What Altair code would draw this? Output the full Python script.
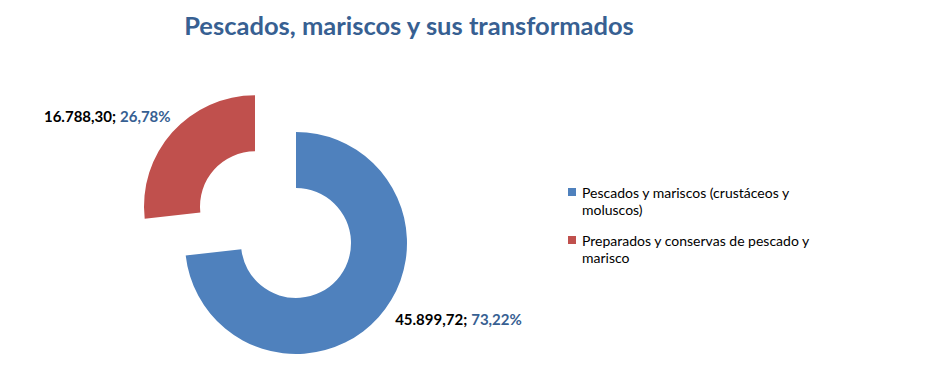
import altair as alt
import pandas as pd

categories = [
    "Pescados y mariscos (crustáceos y moluscos)",
    "Preparados y conservas de pescado y marisco",
]
values = [45899.72, 16788.30]
value_labels = ["45.899,72;", "16.788,30;"]
pct_labels = ["73,22%", "26,78%"]
legend_labels = [
    "Pescados y mariscos (crustáceos y\nmoluscos)",
    "Preparados y conservas de pescado y\nmarisco",
]
exploded = [False, True]
title_text = ["Pescados, mariscos y sus transformados"]
colors = ["#4F81BD", "#C0504D"]

df = pd.DataFrame({
    "idx": list(range(len(categories))),
    "category": categories,
    "value": values,
    "vlab": value_labels,
    "plab": pct_labels,
    "leg": legend_labels,
    "exp": exploded,
})

FONT = "Lato"
CX, CY = 288, 235
R_OUT, R_IN = 111, 55
EXPLODE = 55
R_LAB = 125

color = alt.Color("category:N", scale=alt.Scale(domain=categories, range=colors), legend=None)

base = (
    alt.Chart(df)
    .transform_window(cum="sum(value)", sort=[alt.SortField("idx")], frame=[None, 0])
    .transform_joinaggregate(total="sum(value)")
    .transform_calculate(
        a0="(datum.cum - datum.value) / datum.total * 2 * PI",
        a1="datum.cum / datum.total * 2 * PI",
    )
    .transform_calculate(mid="(datum.a0 + datum.a1) / 2")
    .transform_calculate(
        cx=f"{CX} + (datum.exp ? {EXPLODE} : 0) * sin(datum.mid)",
        cy=f"{CY} - (datum.exp ? {EXPLODE} : 0) * cos(datum.mid)",
    )
    .transform_calculate(
        ex=f"datum.cx + {R_LAB} * sin(datum.mid)",
        ey=f"datum.cy - {R_LAB} * cos(datum.mid)",
        right="sin(datum.mid) > 0",
    )
    .transform_calculate(
        split="datum.right ? datum.ex + length(datum.vlab) * 7.4 + 4 : datum.ex - length(datum.plab) * 8.3 + 4"
    )
)

arcs = base.mark_arc(outerRadius=R_OUT, innerRadius=R_IN, stroke=None).encode(
    theta=alt.Theta("a0:Q", scale=None),
    theta2="a1:Q",
    x=alt.X("cx:Q", scale=None),
    y=alt.Y("cy:Q", scale=None),
    color=color,
)

val_text = base.mark_text(
    align="right", baseline="middle", font=FONT, fontSize=15, fontWeight="bold", color="#000000", dy=-6
).encode(
    x=alt.X("split:Q", scale=None),
    y=alt.Y("ey:Q", scale=None),
    text="vlab:N",
)

pct_text = base.mark_text(
    align="left", baseline="middle", font=FONT, fontSize=15, fontWeight="bold", color="#376092", dx=4, dy=-6
).encode(
    x=alt.X("split:Q", scale=None),
    y=alt.Y("ey:Q", scale=None),
    text="plab:N",
)

legend_sq = base.mark_square(size=64, opacity=1).encode(
    x=alt.value(564),
    y=alt.Y("ly:Q", scale=None),
    color=color,
).transform_calculate(ly="184 + datum.idx * 48")

legend_txt = base.mark_text(
    align="left", baseline="alphabetic", font=FONT, fontSize=14, color="#000000", lineBreak="\n", lineHeight=17
).encode(
    x=alt.value(574),
    y=alt.Y("ly:Q", scale=None),
    text="leg:N",
).transform_calculate(ly="190 + datum.idx * 48")

title = alt.Chart(pd.DataFrame({"t": title_text})).mark_text(
    align="center", baseline="alphabetic", font=FONT, fontSize=25.5, fontWeight="bold", color="#376092"
).encode(
    x=alt.value(401),
    y=alt.value(27),
    text="t:N",
)

chart = (
    alt.layer(arcs, val_text, pct_text, legend_sq, legend_txt, title)
    .properties(width=916, height=355, padding=0, autosize="none")
    .configure_view(stroke=None)
)

chart.save("out.html", embed_options={"renderer": "svg", "actions": False})
